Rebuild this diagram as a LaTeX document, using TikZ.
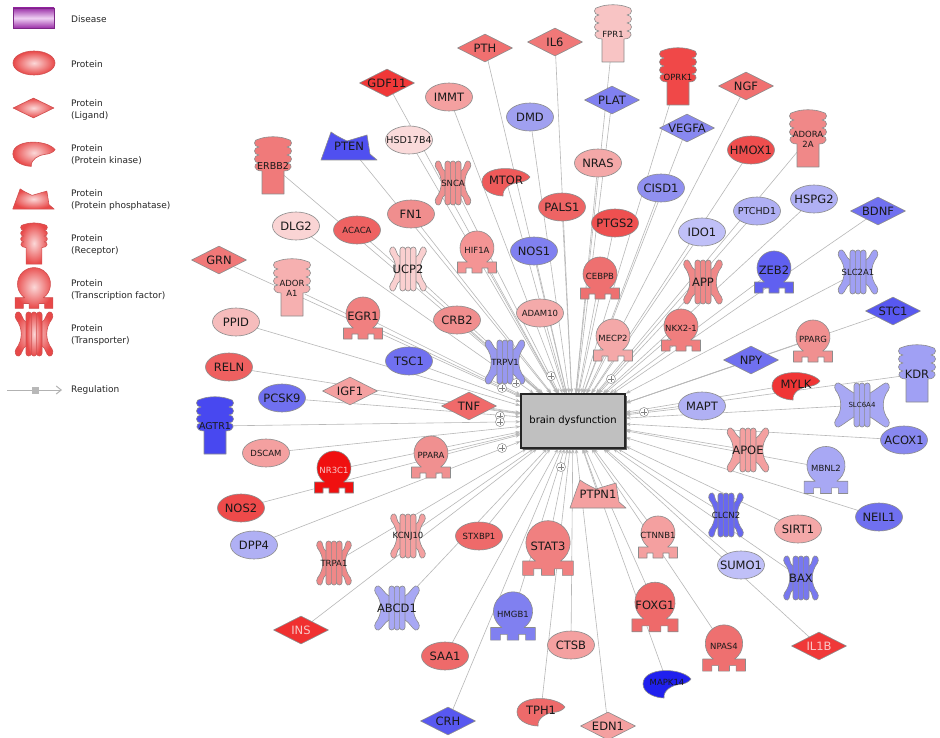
\documentclass[tikz,border=0pt]{standalone}
\usepackage{fontspec}
\setmainfont{DejaVu Sans}
\usetikzlibrary{shapes.geometric,arrows.meta,shadows}
\pgfdeclarelayer{bg}
\pgfdeclarelayer{edges}
\pgfsetlayers{bg,edges,main}
\newcommand\lgf{\fontsize{11.5}{13}\selectfont}
\newcommand\smf{\fontsize{8.5}{10}\selectfont}
\newcommand\mdf{\fontsize{9.5}{11}\selectfont}
\newcommand\xsf{\fontsize{7}{8}\selectfont}
\definecolor{lighttxt}{HTML}{F8C8C8}
\definecolor{edgec}{HTML}{B8B8B8}
\definecolor{boxc}{HTML}{C0C0C0}
\definecolor{dis1}{HTML}{9B30A8}
\definecolor{dis2}{HTML}{EFD0F4}
\definecolor{legin}{HTML}{FBD8D8}
\definecolor{legout}{HTML}{E84848}
\definecolor{legline}{HTML}{D05050}
\tikzset{
  shp/.style={draw=black!45, line width=0.6pt, line join=round},
  ell/.style={shp, ellipse, minimum width=47pt, minimum height=28pt, inner sep=0pt},
  dia/.style={shp, diamond, aspect=2, minimum width=55pt, minimum height=28pt, inner sep=0pt},
  lbl/.style={inner sep=0pt, align=center, font=\lgf, text=black!90},
  edge/.style={draw=edgec, line width=0.6pt, -{Stealth[length=5pt,width=3.5pt]}},
  legsh/.style={draw=legline, inner color=legin, outer color=legout},
  legt/.style={anchor=west, align=left, inner sep=0pt, font=\fontsize{9}{12}\selectfont, text=black!85},
  plusn/.style={circle, draw=black!45, fill=white, minimum size=9pt, inner sep=0pt, line width=0.5pt,
    path picture={\draw[black!50,line width=0.5pt]
      ([xshift=1.8pt]path picture bounding box.west) -- ([xshift=-1.8pt]path picture bounding box.east)
      ([yshift=-1.8pt]path picture bounding box.north) -- ([yshift=1.8pt]path picture bounding box.south);}},
  dbox/.style={draw=black!85, fill=boxc, line width=1.1pt, minimum width=104pt, minimum height=54pt,
    inner sep=0pt, font=\fontsize{10}{12}\selectfont,
    drop shadow={shadow xshift=1.5pt, shadow yshift=-1.5pt, fill=black!60, opacity=1}}
}
% shape paths: #1 options, #2 x, #3 y
\newcommand\kinpath[3]{\path[shp,shift={(#2,#3)},yscale=-1,#1] (24,5) .. controls (14,17) and (-24,17) .. (-24,0) .. controls (-24,-10) and (-10,-14) .. (-3,-14) .. controls (-4,-6) and (6,-1) .. (12,-0.5) .. controls (18,0) and (22,2) .. (24,5) -- cycle;}
\newcommand\phopath[3]{\path[shp,shift={(#2,#3)},yscale=-1,#1] (-28,-14) -- (-18,14) .. controls (-12,10) .. (-2,5) .. controls (8,8) .. (18,11) -- (21,-8) -- (28,-14) -- cycle;}
\newcommand\recpath[3]{\path[shp,shift={(#2,#3)},yscale=-1,#1] (-14,27) .. controls (-6,30) and (6,30) .. (14,27) .. controls (20,27) and (20,19) .. (14,19) .. controls (20,19) and (20,11) .. (14,11) .. controls (20,11) and (20,3) .. (14,3) .. controls (20,3) and (20,-5) .. (11,-5) -- (11,-28) -- (-11,-28) -- (-11,-5) .. controls (-20,-5) and (-20,3) .. (-14,3) .. controls (-20,3) and (-20,11) .. (-14,11) .. controls (-20,11) and (-20,19) .. (-14,19) .. controls (-20,19) and (-20,27) .. (-14,27) -- cycle;}
\newcommand\tfpath[3]{\path[shp,shift={(#2,#3)},yscale=-1,#1] (-19.5,-21) -- (-19.5,-10) -- (-9.63,-10) arc[start angle=235.5,end angle=-55.5,radius=17] -- (19.5,-10) -- (19.5,-21) -- (11,-21) -- (11,-16) -- (5,-16) -- (5,-21) -- (-5,-21) -- (-5,-16) -- (-11,-16) -- (-11,-21) -- cycle;}
\newcommand\trnpath[4]{\pgfmathsetmacro\tra{#4/2}%
  \path[shp,shift={(#2,#3)},yscale=-1,#1] (-8,12) -- (8,12) .. controls (12,14) and (\tra-7,21) .. (\tra-4,22) .. controls (\tra-1,23) and (\tra+1,18) .. (\tra-1,15) .. controls (\tra-8,6) and (\tra-8,-6) .. (\tra-1,-15) .. controls (\tra+1,-18) and (\tra-1,-23) .. (\tra-4,-22) .. controls (\tra-7,-21) and (12,-14) .. (8,-12) -- (-8,-12) .. controls (-12,-14) and (-\tra+7,-21) .. (-\tra+4,-22) .. controls (-\tra+1,-23) and (-\tra-1,-18) .. (-\tra+1,-15) .. controls (-\tra+8,-6) and (-\tra+8,6) .. (-\tra+1,15) .. controls (-\tra-1,18) and (-\tra+1,23) .. (-\tra+4,22) .. controls (-\tra+7,21) and (-12,14) .. (-8,12) -- cycle;
  \path[shp,shift={(#2,#3)},yscale=-1,#1,rounded corners=2.6pt] (-8,-22) rectangle (-2.67,22) (-2.67,-22) rectangle (2.67,22) (2.67,-22) rectangle (8,22);}
% graph node macros: name, x, y, hex colour, label
\newcommand\ELL[5]{\definecolor{c#1}{HTML}{#4}\node[ell,fill=c#1] (#1s) at (#2,#3) {};\node[lbl] (#1) at (#2,#3) {#5};}
\newcommand\DIA[5]{\definecolor{c#1}{HTML}{#4}\node[dia,fill=c#1] (#1s) at (#2,#3) {};\node[lbl] (#1) at (#2,#3) {#5};}
\newcommand\KIN[5]{\definecolor{c#1}{HTML}{#4}\kinpath{fill=c#1}{#2}{#3}\node[lbl] (#1) at (#2,#3-2) {#5};}
\newcommand\PHO[5]{\definecolor{c#1}{HTML}{#4}\phopath{fill=c#1}{#2}{#3}\node[lbl] (#1) at (#2,#3) {#5};}
\newcommand\REC[5]{\definecolor{c#1}{HTML}{#4}\recpath{fill=c#1}{#2}{#3}\node[lbl] (#1) at (#2,#3) {#5};}
\newcommand\TFA[6][]{\definecolor{c#2}{HTML}{#5}\tfpath{fill=c#2,#1}{#3}{#4}\node[lbl] (#2) at (#3,#4-2) {#6};}
\newcommand\TRN[6][36]{\definecolor{c#2}{HTML}{#5}\trnpath{fill=c#2}{#3}{#4}{#1}\node[lbl] (#2) at (#3,#4) {#6};}

\begin{document}
\begin{tikzpicture}[x=1pt,y=-1pt]
\useasboundingbox (0,0) rectangle (940,738);
\begin{pgfonlayer}{bg}
\fill[white] (0,0) rectangle (940,738);
\end{pgfonlayer}

% ---------------- legend ----------------
\node[minimum width=41pt, minimum height=20pt, inner sep=0pt, draw=dis1!80!black, line width=0.6pt,
      top color=dis1, bottom color=dis1, middle color=dis2] (lgdis) at (33.5,18) {};
\node[legt] (lgdist) at (71,19) {Disease};
\node[shp, ellipse, minimum width=42pt, minimum height=24pt, inner sep=0pt, legsh] (lgell) at (34,63) {};
\node[legt] (lgellt) at (71,64) {Protein};
\node[shp, diamond, aspect=2, minimum width=41pt, minimum height=20pt, inner sep=0pt, legsh] (lgdia) at (33.5,108) {};
\node[legt] (lgdiat) at (71,110) {Protein\\(Ligand)};
\kinpath{legsh,scale=0.88}{34}{154}
\node[legt] (lgkint) at (71,155) {Protein\\(Protein kinase)};
\phopath{legsh,xscale=0.74,yscale=0.72}{33.5}{199}
\node[legt] (lgphot) at (71,200) {Protein\\(Protein phosphatase)};
\recpath{legsh,scale=0.72}{34}{244}
\node[legt] (lgrect) at (71,245) {Protein\\(Receptor)};
\tfpath{legsh,scale=0.97}{34}{288}
\node[legt] (lgtft) at (71,290) {Protein\\(Transcription factor)};
\trnpath{legsh}{34}{334}{38}
\node[legt] (lgtrt) at (71,335) {Protein\\(Transporter)};
\coordinate (rgA) at (7,390);
\coordinate (rgB) at (62,390);
\draw[draw=black!30, line width=1pt, -{Straight Barb[length=5pt,width=8pt]}] (rgA) -- (rgB);
\node[fill=black!28, minimum size=7pt, inner sep=0pt] (rgsq) at (35,390) {};
\node[legt] (lgregt) at (71,390) {Regulation};

% ---------------- central disease box ----------------
\node[dbox] (box) at (573,421) {brain dysfunction};

% ---------------- ligands (diamonds) ----------------
\DIA{pth}{485}{48}{F07070}{PTH}
\DIA{il6}{555}{42}{F07878}{IL6}
\DIA{gdf11}{387}{83}{F03838}{GDF11}
\DIA{ngf}{746}{86}{F07070}{NGF}
\DIA{plat}{612}{100}{8080F0}{PLAT}
\DIA{vegfa}{687}{128}{8888F0}{VEGFA}
\DIA{bdnf}{878}{211}{7070F0}{BDNF}
\DIA{grn}{219}{260}{F07878}{GRN}
\DIA{igf1}{350}{391}{F4A0A0}{IGF1}
\DIA{tnf}{469}{406}{F06A6A}{TNF}
\DIA{stc1}{893}{311}{5858F0}{STC1}
\DIA{npy}{751}{360}{7070F0}{NPY}
\DIA{ins}{301}{630}{F03030}{\color{lighttxt}INS}
\DIA{crh}{448}{721}{5858F0}{CRH}
\DIA{il1b}{819}{646}{F03838}{\color{lighttxt}IL1B}
\DIA{edn1}{608}{726}{F4A0A0}{EDN1}

% ---------------- proteins (ellipses) ----------------
\ELL{immt}{449}{97}{F4A0A0}{IMMT}
\ELL{dmd}{530}{117}{A0A0F0}{DMD}
\ELL{hsd}{409}{140}{FADADA}{\mdf HSD17B4}
\ELL{fn1}{411}{214}{F08E8E}{FN1}
\ELL{dlg2}{296}{226}{FAD4D4}{DLG2}
\ELL{acaca}{357}{230}{EE6262}{\smf ACACA}
\ELL{pals1}{562}{207}{EE6464}{PALS1}
\ELL{hmox1}{751}{150}{EE4E4E}{HMOX1}
\ELL{nras}{598}{163}{F4A8A8}{NRAS}
\ELL{cisd1}{661}{188}{9090F0}{CISD1}
\ELL{ptgs2}{615}{223}{EE5050}{PTGS2}
\ELL{ptchd1}{757}{211}{B0B0F4}{\mdf PTCHD1}
\ELL{hspg2}{814}{199}{B0B0F4}{HSPG2}
\ELL{ido1}{702}{232}{C0C0F8}{IDO1}
\ELL{nos1}{534}{251}{8080F0}{NOS1}
\ELL{crb2}{457}{320}{F08E8E}{CRB2}
\ELL{adam10}{540}{313}{F4AAAA}{\smf ADAM10}
\ELL{ppid}{236}{322}{F6BCBC}{PPID}
\ELL{tsc1}{409}{361}{7070F0}{TSC1}
\ELL{reln}{229}{367}{EE6060}{RELN}
\ELL{pcsk9}{282}{398}{7070F0}{PCSK9}
\ELL{dscam}{266}{453}{F4A0A0}{\smf DSCAM}
\ELL{nos2}{241}{508}{EE4A4A}{NOS2}
\ELL{dpp4}{254}{545}{B0B0F4}{DPP4}
\ELL{stxbp1}{479}{536}{EE6A6A}{\smf STXBP1}
\ELL{saa1}{445}{656}{EE6A6A}{SAA1}
\ELL{sirt1}{798}{529}{F4A8A8}{SIRT1}
\ELL{neil1}{879}{517}{7070F0}{NEIL1}
\ELL{sumo1}{741}{565}{C0C0F8}{SUMO1}
\ELL{ctsb}{571}{645}{F4A0A0}{CTSB}
\ELL{mapt}{702}{406}{B0B0F4}{MAPT}
\ELL{acox1}{904}{440}{8888F0}{ACOX1}

% ---------------- kinases ----------------
\KIN{mtor}{506}{182}{EE5A5A}{MTOR}
\KIN{mylk}{796}{386}{F03535}{MYLK}
\KIN{tph1}{541}{712}{EE6A6A}{TPH1}
\KIN{mapk14}{667}{684}{2020EE}{\smf MAPK14}

% ---------------- phosphatases ----------------
\PHO{pten}{349}{146}{5050F0}{PTEN}
\PHO{ptpn1}{598}{494}{F4A0A0}{PTPN1}

% ---------------- receptors ----------------
\REC{erbb2}{273}{166}{F07A7A}{\mdf ERBB2}
\REC{fpr1}{613}{34}{F8C4C4}{\smf FPR1}
\REC{oprk1}{678}{77}{F04848}{\smf OPRK1}
\REC{adora2a}{808}{139}{F08888}{\smf ADORA\\[-3pt]\smf 2A}
\REC{adora1}{292}{288}{F6B0B0}{\smf ADOR\\[-3pt]\smf A1}
\REC{agtr1}{215}{426}{4848F0}{\mdf AGTR1}
\REC{kdr}{917}{374}{A0A0F4}{KDR}

% ---------------- transcription factors ----------------
\TFA{hif1a}{477}{252}{F49494}{\smf HIF1A}
\TFA{egr1}{363}{318}{F08080}{EGR1}
\TFA{cebpb}{600}{278}{EE7070}{\smf CEBPB}
\TFA{zeb2}{774}{272}{6060F0}{ZEB2}
\TFA{mecp2}{613}{340}{F4A8A8}{\smf MECP2}
\TFA{nkx21}{681}{330}{F07E7E}{\smf NKX2-1}
\TFA{pparg}{813}{341}{F09090}{\smf PPARG}
\TFA{ppara}{431}{457}{F09090}{\smf PPARA}
\TFA{nr3c1}{334}{472}{F01010}{\smf\color{lighttxt}NR3C1}
\TFA[scale=1.12]{mbnl2}{826}{470}{A8A8F4}{\smf MBNL2}
\TFA[scale=1.3]{stat3}{548}{548}{F08080}{STAT3}
\TFA{ctnnb1}{658}{537}{F4A0A0}{\smf CTNNB1}
\TFA[scale=1.15]{hmgb1}{513}{616}{8080F0}{\smf HMGB1}
\TFA[scale=1.18]{foxg1}{655}{607}{EE6A6A}{FOXG1}
\TFA[scale=1.1]{npas4}{724}{648}{EE7070}{\smf NPAS4}

% ---------------- transporters ----------------
\TRN{snca}{453}{183}{F09090}{\smf SNCA}
\TRN[37]{ucp2}{408}{269}{FAD0D0}{UCP2}
\TRN[40]{trpv1}{505}{362}{9898F0}{\smf TRPV1}
\TRN[39]{app}{703}{282}{F08888}{APP}
\TRN[40]{slc2a1}{858}{272}{A0A0F4}{\smf SLC2A1}
\TRN[55]{slc6a4}{862}{405}{A8A8F4}{\xsf SLC6A4}
\TRN[42]{apoe}{748}{450}{F4A0A0}{APOE}
\TRN[35]{kcnj10}{408}{536}{F4A0A0}{\smf KCNJ10}
\TRN[35]{trpa1}{334}{563}{F08888}{\smf TRPA1}
\TRN[45]{abcd1}{397}{608}{A8A8F4}{ABCD1}
\TRN[35]{clcn2}{726}{515}{6868F0}{\smf CLCN2}
\TRN[35]{bax}{801}{578}{7878F0}{BAX}

% ---------------- regulation markers ----------------
\node[plusn] (pl1) at (551,376) {};
\node[plusn] (pl2) at (611,379) {};
\node[plusn] (pl3) at (502,388) {};
\node[plusn] (pl4) at (516,383) {};
\node[plusn] (pl5) at (500,416) {};
\node[plusn] (pl6) at (500,422) {};
\node[plusn] (pl7) at (644,412) {};
\node[plusn] (pl8) at (502,448) {};
\node[plusn] (pl9) at (561,467) {};

% ---------------- connectors ----------------
\begin{pgfonlayer}{edges}
\foreach \n in {pth,il6,gdf11,ngf,plat,vegfa,bdnf,grn,igf1,tnf,stc1,npy,ins,crh,il1b,edn1,
  immt,dmd,hsd,fn1,dlg2,acaca,pals1,hmox1,nras,cisd1,ptgs2,ptchd1,hspg2,ido1,nos1,crb2,adam10,
  ppid,tsc1,reln,pcsk9,dscam,nos2,dpp4,stxbp1,saa1,sirt1,neil1,sumo1,ctsb,mapt,acox1,
  mtor,mylk,tph1,mapk14,pten,ptpn1,erbb2,fpr1,oprk1,adora2a,adora1,agtr1,kdr,
  hif1a,egr1,cebpb,zeb2,mecp2,nkx21,pparg,ppara,nr3c1,mbnl2,stat3,ctnnb1,hmgb1,foxg1,npas4,
  snca,ucp2,trpv1,app,slc2a1,slc6a4,apoe,kcnj10,trpa1,abcd1,clcn2,bax}
  \draw[edge] (\n) -- (box);
\end{pgfonlayer}
\end{tikzpicture}
\end{document}
